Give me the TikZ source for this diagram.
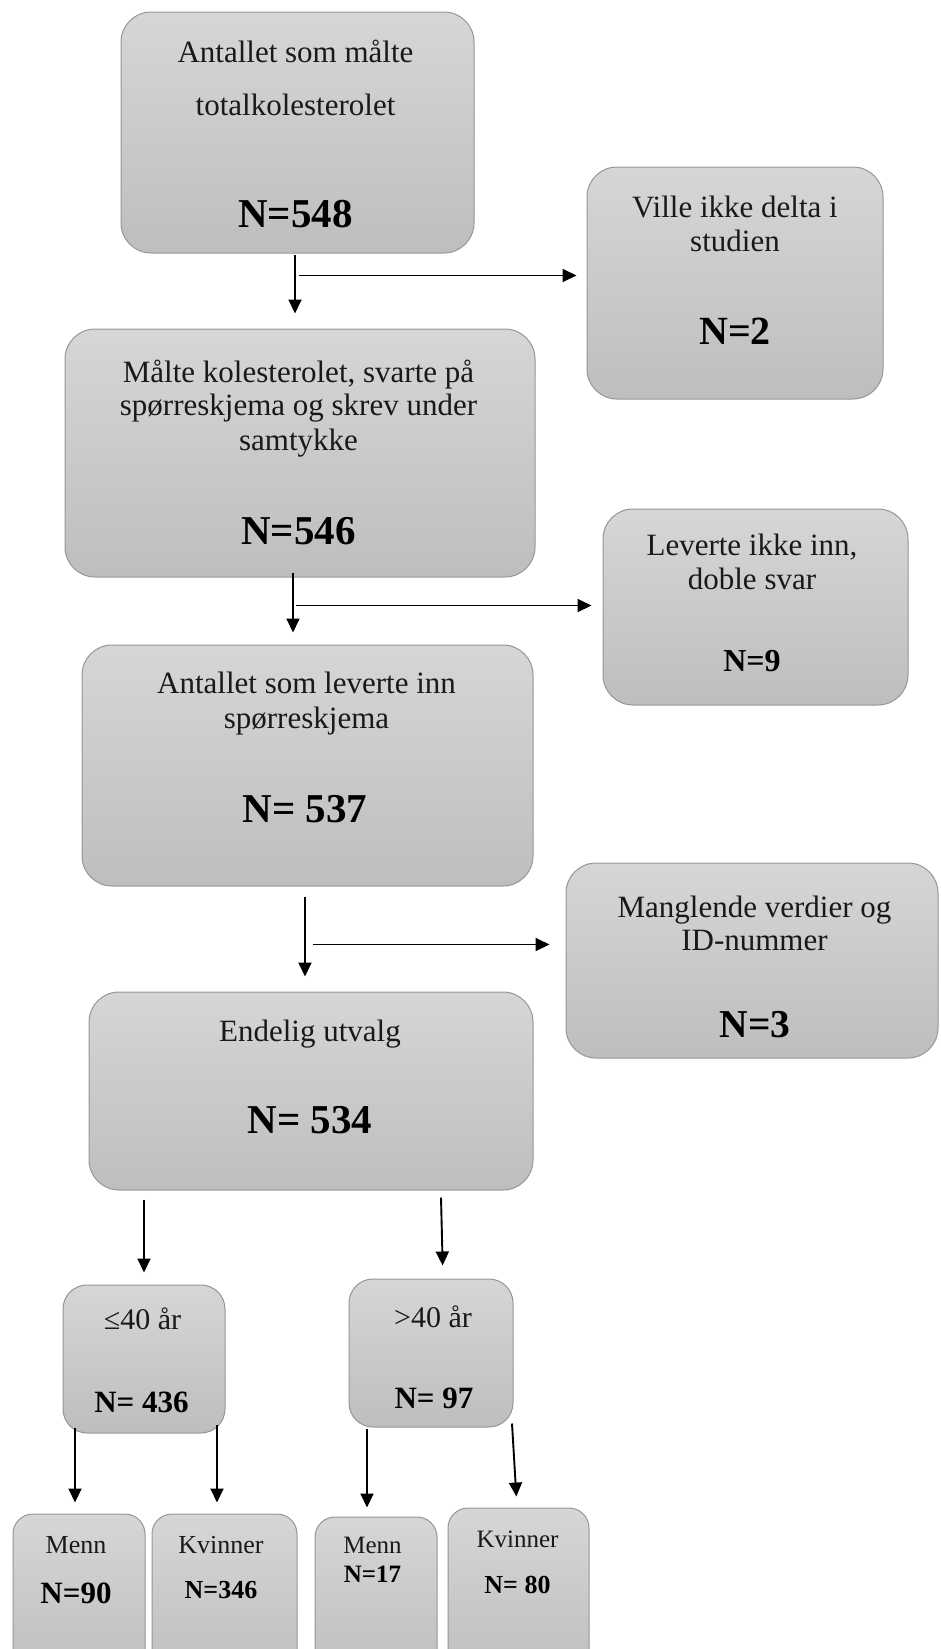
\documentclass[tikz,border=0pt]{standalone}
\usepackage{fontspec}
\setmainfont{Liberation Serif}
\usetikzlibrary{arrows.meta,calc}
\definecolor{boxtop}{RGB}{214,214,214}
\definecolor{boxbot}{RGB}{190,190,190}
\definecolor{bordergray}{RGB}{150,150,150}
\definecolor{textc}{RGB}{25,25,25}
\begin{document}
\begin{tikzpicture}[x=1pt,y=-1pt,
  box/.style={draw=bordergray, line width=1pt, rounded corners=#1, top color=boxtop, bottom color=boxbot, inner sep=0pt},
  box/.default=30pt,
  txt/.style={anchor=base, inner sep=0pt, text=textc, font=\fontsize{#1}{#1}\selectfont},
  txt/.default=31,
  num/.style={anchor=base, inner sep=0pt, text=black, font=\fontsize{#1}{#1}\selectfont\bfseries},
  num/.default=41,
  arr/.style={line width=1.9pt, -{Triangle[width=13pt,length=14pt]}}
]
\useasboundingbox (0,0) rectangle (940,1649);
\clip (0,0) rectangle (940,1649);

% boxes
\node[box, minimum width=353pt, minimum height=241pt] (b1) at (297.5,132.5) {};
\node[box, minimum width=296pt, minimum height=232pt] (ville) at (735,283) {};
\node[box, minimum width=470pt, minimum height=248pt] (b2) at (300,453) {};
\node[box, minimum width=305pt, minimum height=196pt] (lev) at (755.5,607) {};
\node[box, minimum width=451pt, minimum height=241pt] (b3) at (307.5,765.5) {};
\node[box, minimum width=372pt, minimum height=195pt] (mang) at (752,960.5) {};
\node[box, minimum width=444pt, minimum height=198pt] (b4) at (311,1091) {};
\node[box=24pt, minimum width=162pt, minimum height=148pt] (le40) at (144,1359) {};
\node[box=24pt, minimum width=164pt, minimum height=148pt] (gt40) at (431,1353) {};
\node[box=20pt, minimum width=132pt, minimum height=166pt] (menn1) at (79,1597) {};
\node[box=20pt, minimum width=145pt, minimum height=166pt] (kv1) at (224.5,1597) {};
\node[box=20pt, minimum width=122pt, minimum height=163pt] (menn2) at (376,1598.5) {};
\node[box=20pt, minimum width=141pt, minimum height=172pt] (kv2) at (518.5,1594) {};

% texts
\node[txt] (t1a) at (295.5,62) {Antallet som målte};
\node[txt] (t1b) at (295.5,115) {totalkolesterolet};
\node[num] (n1) at (295.5,227) {N=548};

\node[txt] (tva) at (735,217) {Ville ikke delta i};
\node[txt] (tvb) at (735,251) {studien};
\node[num=40] (nv) at (735,344) {N=2};

\node[txt] (t2a) at (298.5,382) {Målte kolesterolet, svarte på};
\node[txt] (t2b) at (298.5,415) {spørreskjema og skrev under};
\node[txt] (t2c) at (298.5,450) {samtykke};
\node[num] (n2) at (298.5,544) {N=546};

\node[txt] (tla) at (752,555) {Leverte ikke inn,};
\node[txt] (tlb) at (752,589) {doble svar};
\node[num=32] (nl) at (752,671) {N=9};

\node[txt] (t3a) at (306.5,693) {Antallet som leverte inn};
\node[txt] (t3b) at (306.5,728) {spørreskjema};
\node[num] (n3) at (305,822) {N= 537};

\node[txt] (tma) at (754.5,917) {Manglende verdier og};
\node[txt] (tmb) at (754.5,950) {ID-nummer};
\node[num=39.5] (nm) at (755,1037) {N=3};

\node[txt] (t4a) at (310,1041) {Endelig utvalg};
\node[num] (n4) at (310,1133) {N= 534};

\node[txt=30] (tle) at (142.5,1329) {≤40 år};
\node[num=31] (nle) at (141.5,1412) {N= 436};
\node[txt=30] (tgt) at (433,1327) {>40 år};
\node[num=31] (ngt) at (434,1408) {N= 97};

\node[txt=26] (tm1) at (76,1553) {Menn};
\node[num=31] (nm1) at (76,1603) {N=90};
\node[txt=26] (tk1) at (221,1553) {Kvinner};
\node[num=26] (nk1) at (221,1598) {N=346};
\node[txt=25] (tm2) at (372.5,1553) {Menn};
\node[num=25] (nm2) at (372.5,1582) {N=17};
\node[txt=25] (tk2) at (517.5,1547) {Kvinner};
\node[num=26] (nk2) at (517.5,1593) {N= 80};

% connectors
\coordinate (v1s) at ($(b1.south)+(-2.5,1)$);
\draw[arr, shorten >=15pt] (v1s) -- (v1s |- b2.north);
\coordinate (h1) at ($(b1.south)+(1.5,22)$);
\draw[arr, shorten >=10pt] (h1) -- (h1 -| ville.west);

\coordinate (v2s) at ($(b2.south)+(-7,-5)$);
\draw[arr, shorten >=12pt] (v2s) -- (v2s |- b3.north);
\coordinate (h2) at ($(b2.south)+(-4,28)$);
\draw[arr, shorten >=11pt] (h2) -- (h2 -| lev.west);

\coordinate (v3s) at ($(b3.south)+(-2.5,10)$);
\draw[arr, shorten >=15pt] (v3s) -- (v3s |- b4.north);
\coordinate (h3) at ($(b3.south)+(5.5,58)$);
\draw[arr, shorten >=16pt] (h3) -- (h3 -| mang.west);

\coordinate (v4a) at ($(b4.south -| le40.north)+(0,9)$);
\draw[arr, shorten >=12pt] (v4a) -- (le40.north);
\coordinate (v4b) at ($(b4.south -| gt40.north)+(10,7)$);
\coordinate (v4e) at ($(gt40.north)+(12,0)$);
\draw[arr, shorten >=13pt] (v4b) -- (v4e);

\coordinate (v5a) at ($(le40.south)+(-69,-6)$);
\draw[arr, shorten >=11pt] (v5a) -- (v5a |- menn1.north);
\coordinate (v5b) at ($(le40.south)+(73,-9)$);
\draw[arr, shorten >=11pt] (v5b) -- (v5b |- kv1.north);

\coordinate (v6a) at ($(gt40.south)+(-64,1)$);
\draw[arr, shorten >=9pt] (v6a) -- (v6a |- menn2.north);
\coordinate (v6b) at ($(gt40.south)+(81,-4)$);
\coordinate (v6e) at ($(gt40.south)+(86,0)$);
\draw[arr, shorten >=11pt] (v6b) -- (v6e |- kv2.north);
\end{tikzpicture}
\end{document}
